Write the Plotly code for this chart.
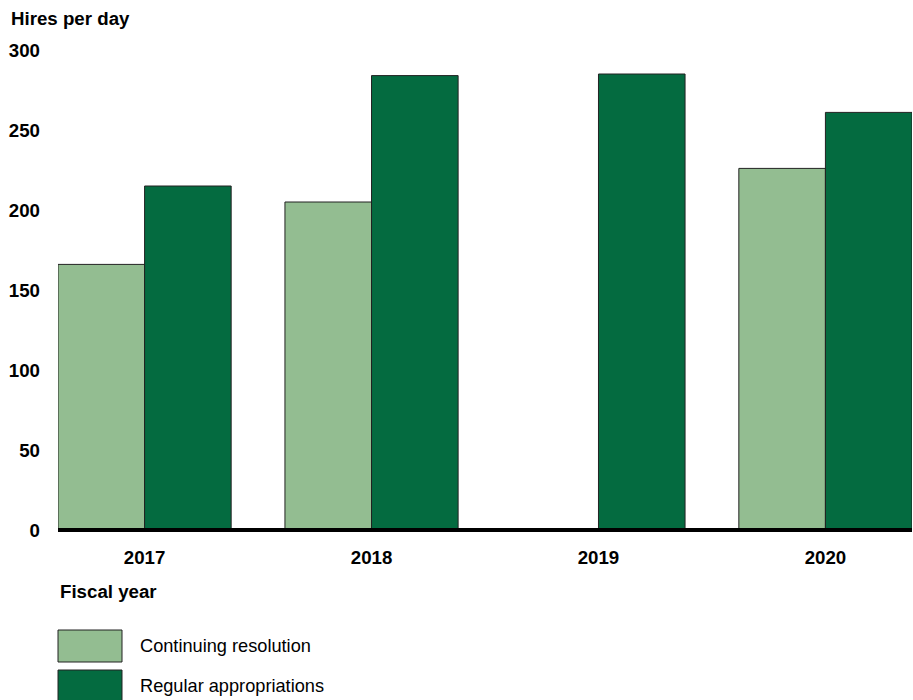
import plotly.graph_objects as go

years = ["2017", "2018", "2019", "2020"]
continuing_resolution = [166, 205, None, 226]
regular_appropriations = [215, 284, 285, 261]
y_ticks = [0, 50, 100, 150, 200, 250, 300]

CR_COLOR = "#93BD91"
RA_COLOR = "#046B40"
FONT = "Liberation Sans, Arial, sans-serif"
FS = 18.7

W, H = 913, 700
L, R, T, B = 58, 1, 50, 170
PW, PH = W - L - R, H - T - B

def px_x(px):
    return (px - L) / PW

def px_y(py):
    return (H - B - py) / PH

fig = go.Figure()
fig.add_trace(go.Bar(x=years, y=continuing_resolution, name="Continuing resolution",
                     marker=dict(color=CR_COLOR, line=dict(color="#222222", width=1)),
                     showlegend=False))
fig.add_trace(go.Bar(x=years, y=regular_appropriations, name="Regular appropriations",
                     marker=dict(color=RA_COLOR, line=dict(color="#222222", width=1)),
                     showlegend=False))

fig.update_layout(
    width=W, height=H,
    margin=dict(l=L, r=R, t=T, b=B),
    paper_bgcolor="white", plot_bgcolor="white",
    barmode="group", bargap=0.237, bargroupgap=0,
    font=dict(family=FONT, color="#000000"),
    xaxis=dict(type="category", range=[-0.3815, 3.3815], showgrid=False, zeroline=False,
               showline=False, ticks="",
               tickvals=years, ticktext=[f"<b>{y}</b>" for y in years],
               tickfont=dict(size=FS, family=FONT, color="#000"),
               ticklabelstandoff=14),
    yaxis=dict(range=[0, 300], showgrid=False, zeroline=False, showline=False, ticks="",
               tickvals=y_ticks, ticktext=[f"<b>{v}</b>" for v in y_ticks],
               tickfont=dict(size=FS, family=FONT, color="#000"),
               ticklabelstandoff=17),
)

# thick baseline at zero (paper-referenced so it is not clipped)
fig.add_shape(type="line", xref="paper", yref="paper", x0=0, x1=1, y0=0, y1=0,
              line=dict(color="black", width=4), layer="above")

# titles
fig.add_annotation(text="<b>Hires per day</b>", xref="paper", yref="paper",
                   x=px_x(9), y=px_y(18), xanchor="left", yanchor="middle",
                   showarrow=False, font=dict(size=FS, family=FONT, color="#000"))
fig.add_annotation(text="<b>Fiscal year</b>", xref="paper", yref="paper",
                   x=px_x(58), y=px_y(591), xanchor="left", yanchor="middle",
                   showarrow=False, font=dict(size=FS, family=FONT, color="#000"))

# legend (manual, large swatches)
legend_items = [("Continuing resolution", CR_COLOR, 630, 662, 646),
                ("Regular appropriations", RA_COLOR, 670, 704, 686)]
for label, color, y0, y1, yc in legend_items:
    fig.add_shape(type="rect", xref="paper", yref="paper",
                  x0=px_x(58), x1=px_x(122), y0=px_y(y1), y1=px_y(y0),
                  fillcolor=color, line=dict(color="#222222", width=1))
    fig.add_annotation(text=label, xref="paper", yref="paper",
                       x=px_x(138), y=px_y(yc), xanchor="left", yanchor="middle",
                       showarrow=False, font=dict(size=FS - 0.5, family=FONT, color="#000"))

fig.write_html("out.html", config={"displayModeBar": False},
               post_script="document.body.style.margin='0';document.body.style.overflow='hidden';")
